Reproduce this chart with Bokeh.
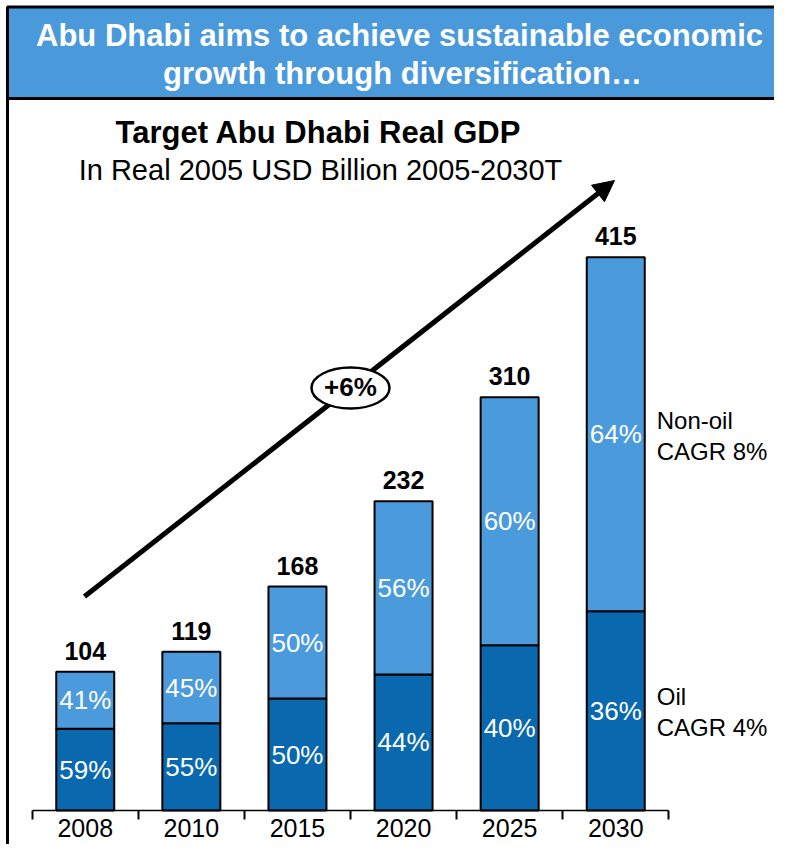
from bokeh.plotting import figure
from bokeh.models import Range1d, FixedTicker, ColumnDataSource, Arrow, NormalHead
from bokeh.core.properties import value
from bokeh.embed import file_html
from bokeh.resources import INLINE

# ---------------- data ----------------
years = ["2008", "2010", "2015", "2020", "2025", "2030"]
total_gdp = [104, 119, 168, 232, 310, 415]
oil_share = [59, 55, 50, 44, 40, 36]
nonoil_share = [41, 45, 50, 56, 60, 64]
segment_names = ["Non-oil", "Oil"]
segment_cagr = ["CAGR 8%", "CAGR 4%"]
overall_cagr = "+6%"
headline = ["Abu Dhabi aims to achieve sustainable economic",
            "growth through diversification\u2026"]
chart_title = "Target Abu Dhabi Real GDP"
chart_subtitle = "In Real 2005 USD Billion 2005-2030T"

# ---------------- layout constants ----------------
W, H = 774, 844
PX_X = 106.1            # pixels per category
PX_Y = 553.3 / 415.0    # pixels per USD billion
XC = 84.75              # px of first category centre
YB = 810.0              # px of the zero baseline
BAR_W = 58.0 / PX_X
FONT = "Liberation Sans"
LIGHT = "#4B9BDC"
DARK = "#0A69AE"
HEAD = "#4A9ADB"


def fx(px):
    return (px - XC) / PX_X


def fy(py):
    return (YB - py) / PX_Y


idx = list(range(len(years)))
oil_val = [t * s / 100.0 for t, s in zip(total_gdp, oil_share)]
src = ColumnDataSource(dict(
    x=idx,
    total=total_gdp,
    oil=oil_val,
    oil_mid=[o / 2.0 for o in oil_val],
    non_mid=[o + (t - o) / 2.0 for o, t in zip(oil_val, total_gdp)],
    oil_lbl=[f"{s}%" for s in oil_share],
    non_lbl=[f"{s}%" for s in nonoil_share],
    total_lbl=[str(t) for t in total_gdp],
    total_y=[t + 21.0 / PX_Y for t in total_gdp],
))

p = figure(width=W, height=H,
           x_range=Range1d(fx(0), fx(W)),
           y_range=Range1d(fy(H), fy(0)),
           output_backend="svg", toolbar_location=None,
           min_border=0, min_border_left=0, min_border_right=0,
           min_border_top=0, min_border_bottom=0,
           outline_line_color=None, y_axis_location=None,
           background_fill_color="white", border_fill_color="white")
p.xgrid.visible = False
p.ygrid.visible = False

ax = p.xaxis[0]
ax.ticker = FixedTicker(ticks=idx, minor_ticks=[i - 0.5 for i in range(len(years) + 1)])
ax.major_label_overrides = {i: y for i, y in zip(idx, years)}
ax.fixed_location = 0
ax.bounds = (-0.5, len(years) - 0.5)
ax.major_tick_out = 0
ax.major_tick_in = 0
ax.minor_tick_out = 9
ax.minor_tick_in = 0
ax.minor_tick_line_color = "black"
ax.minor_tick_line_width = 2
ax.axis_line_color = "black"
ax.axis_line_width = 1.5
ax.major_label_text_font = FONT
ax.major_label_text_font_size = "25px"
ax.major_label_text_color = "black"
ax.major_label_standoff = -1

# header band and frame line
p.quad(left=[fx(7)], right=[fx(W + 30)], top=[fy(6.5)], bottom=[fy(98)],
       fill_color=HEAD, line_color="black", line_width=3)
p.segment(x0=[fx(7)], y0=[fy(98)], x1=[fx(7)], y1=[fy(H + 20)],
          line_color="black", line_width=3)
p.text(x=[fx(399), fx(402)], y=[fy(34.5), fy(73)], text=headline,
       text_align="center", text_baseline="middle", text_color="white",
       text_font=value(FONT), text_font_size=value("31px"), text_font_style="bold")

# chart titles
p.text(x=[fx(318)], y=[fy(132)], text=[chart_title],
       text_align="center", text_baseline="middle", text_color="black",
       text_font=value(FONT), text_font_size=value("31px"), text_font_style="bold")
p.text(x=[fx(320)], y=[fy(169)], text=[chart_subtitle],
       text_align="center", text_baseline="middle", text_color="black",
       text_font=value(FONT), text_font_size=value("29px"))

# growth arrow with CAGR bubble
arrow = Arrow(x_start=fx(84), y_start=fy(596), x_end=fx(614), y_end=fy(180),
              line_width=5, line_color="black",
              end=NormalHead(size=21, fill_color="black", line_color="black", line_width=1),
              level="underlay")
p.add_layout(arrow)
p.ellipse(x=[fx(350)], y=[fy(387.5)], width=78 / PX_X, height=41 / PX_Y,
          fill_color="white", line_color="black", line_width=2.5)
p.text(x=[fx(350)], y=[fy(386.5)], text=[overall_cagr],
       text_align="center", text_baseline="middle", text_color="black",
       text_font=value(FONT), text_font_size=value("26px"), text_font_style="bold")

# bars
p.vbar(x="x", bottom=0, top="oil", width=BAR_W, fill_color=DARK,
       line_color="black", line_width=2, source=src)
p.vbar(x="x", bottom="oil", top="total", width=BAR_W, fill_color=LIGHT,
       line_color="black", line_width=2, source=src)

# labels in and above bars
p.text(x="x", y="oil_mid", text="oil_lbl", source=src,
       text_align="center", text_baseline="middle", text_color="white",
       text_font=value(FONT), text_font_size=value("26px"))
p.text(x="x", y="non_mid", text="non_lbl", source=src,
       text_align="center", text_baseline="middle", text_color="white",
       text_font=value(FONT), text_font_size=value("26px"))
p.text(x="x", y="total_y", text="total_lbl", source=src,
       text_align="center", text_baseline="middle", text_color="black",
       text_font=value(FONT), text_font_size=value("25px"), text_font_style="bold")

# segment legend to the right of the last bar
last = idx[-1]
lx = last + BAR_W / 2 + 12.0 / PX_X
non_c = src.data["non_mid"][-1]
oil_c = src.data["oil_mid"][-1]
leg_y = [non_c + 14 / PX_Y, non_c - 17 / PX_Y, oil_c + 14 / PX_Y, oil_c - 17 / PX_Y]
leg_t = [segment_names[0], segment_cagr[0], segment_names[1], segment_cagr[1]]
p.text(x=[lx] * 4, y=leg_y, text=leg_t,
       text_align="left", text_baseline="middle", text_color="black",
       text_font=value(FONT), text_font_size=value("24px"))

open("out.html", "w").write(file_html(p, INLINE))
